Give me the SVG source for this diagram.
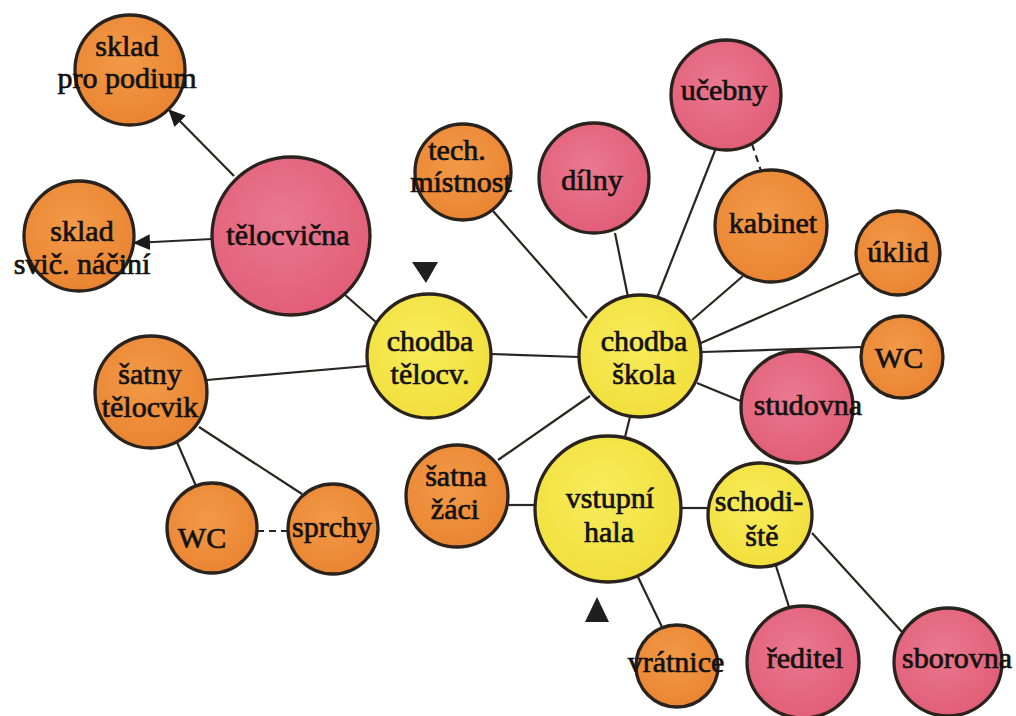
<svg xmlns="http://www.w3.org/2000/svg" width="1016" height="716" viewBox="0 0 1016 716">
<defs>
<radialGradient id="gO" cx="0.45" cy="0.4" r="0.6"><stop offset="0" stop-color="#F29A48"/><stop offset="1" stop-color="#EA8532"/></radialGradient>
<radialGradient id="gP" cx="0.45" cy="0.4" r="0.6"><stop offset="0" stop-color="#E9798F"/><stop offset="1" stop-color="#E25E78"/></radialGradient>
<radialGradient id="gY" cx="0.45" cy="0.4" r="0.6"><stop offset="0" stop-color="#F7EC5C"/><stop offset="1" stop-color="#F1DF3C"/></radialGradient>
<marker id="arr" markerUnits="userSpaceOnUse" markerWidth="20" markerHeight="18" refX="16" refY="8" orient="auto">
<path d="M0,0 L17,8 L0,16 Z" fill="#1a1a1a"/>
</marker>
<style>
.n circle{stroke:#2a221c;stroke-width:3.3}
.o circle{fill:url(#gO)}
.p circle{fill:url(#gP)}
.y circle{fill:url(#gY)}
text{font-family:"Liberation Serif","Times New Roman",serif;font-size:30px;fill:#141210;stroke:#141210;stroke-width:0.7;text-anchor:middle}
#edges line{stroke:#2a2522;stroke-width:2.2;fill:none}
#edges .d{stroke-dasharray:7 5}
.tri{fill:#1f1f1f}
</style>
</defs>
<rect width="1016" height="716" fill="#ffffff"/>
<g id="edges">
<line x1="234" y1="176" x2="169" y2="110" marker-end="url(#arr)"/>
<line x1="212" y1="239" x2="134" y2="243" marker-end="url(#arr)"/>
<line x1="344" y1="294" x2="377" y2="323"/>
<line x1="207" y1="380" x2="367" y2="366"/>
<line x1="177" y1="442" x2="196" y2="486"/>
<line x1="199" y1="427" x2="302" y2="494"/>
<line class="d" x1="257" y1="531" x2="288" y2="531"/>
<line x1="491" y1="354" x2="579" y2="357"/>
<line x1="493" y1="211" x2="587" y2="318"/>
<line x1="615" y1="233" x2="628" y2="297"/>
<line x1="716" y1="148" x2="657" y2="298"/>
<line x1="743" y1="276" x2="692" y2="320"/>
<line x1="860" y1="273" x2="701" y2="343"/>
<line x1="862" y1="347" x2="702" y2="352"/>
<line x1="743" y1="402" x2="697" y2="383"/>
<line x1="498" y1="460" x2="590" y2="396"/>
<line x1="508" y1="505" x2="535" y2="505"/>
<line x1="630" y1="417" x2="625" y2="437"/>
<line x1="681" y1="508" x2="708" y2="508"/>
<line x1="638" y1="577" x2="662" y2="627"/>
<line x1="776" y1="566" x2="789" y2="607"/>
<line x1="812" y1="533" x2="902" y2="632"/>
<line class="d" x1="752" y1="144" x2="761" y2="171"/>
</g>
<g id="markers">
<polygon class="tri" points="412,262 438,262 426,283"/>
<polygon class="tri" points="585,622 609,622 597,597"/>
</g>
<g id="sklad-podium" class="n o"><circle cx="130" cy="70" r="55"/><text x="127" y="56">sklad</text><text x="127" y="88">pro podium</text></g>
<g id="sklad-svic" class="n o"><circle cx="79" cy="236" r="55"/><text x="82" y="241">sklad</text><text x="82" y="274">svič. náčiní</text></g>
<g id="telocvicna" class="n p"><circle cx="291" cy="236" r="79"/><text x="288" y="245">tělocvična</text></g>
<g id="chodba-telocv" class="n y"><circle cx="429" cy="356" r="62"/><text x="430" y="351">chodba</text><text x="430" y="384">tělocv.</text></g>
<g id="satny-telocvik" class="n o"><circle cx="151" cy="392" r="56"/><text x="150" y="384">šatny</text><text x="150" y="417">tělocvik</text></g>
<g id="wc-left" class="n o"><circle cx="212" cy="528" r="45"/><text x="202" y="548">WC</text></g>
<g id="sprchy" class="n o"><circle cx="333" cy="529" r="45"/><text x="332" y="537">sprchy</text></g>
<g id="tech-mistnost" class="n o"><circle cx="463" cy="172" r="48"/><text x="457" y="160">tech.</text><text x="461" y="192">místnost</text></g>
<g id="dilny" class="n p"><circle cx="594" cy="178" r="55"/><text x="592" y="190">dílny</text></g>
<g id="ucebny" class="n p"><circle cx="726" cy="95" r="55"/><text x="724" y="100">učebny</text></g>
<g id="kabinet" class="n o"><circle cx="771" cy="226" r="56"/><text x="773" y="233">kabinet</text></g>
<g id="uklid" class="n o"><circle cx="898" cy="253" r="42"/><text x="898" y="262">úklid</text></g>
<g id="wc-right" class="n o"><circle cx="902" cy="357" r="41"/><text x="899" y="368">WC</text></g>
<g id="studovna" class="n p"><circle cx="797" cy="407" r="56"/><text x="808" y="415">studovna</text></g>
<g id="chodba-skola" class="n y"><circle cx="640" cy="356" r="61"/><text x="644" y="351">chodba</text><text x="644" y="384">škola</text></g>
<g id="satna-zaci" class="n o"><circle cx="457" cy="496" r="51"/><text x="456" y="486">šatna</text><text x="455" y="519">žáci</text></g>
<g id="vstupni-hala" class="n y"><circle cx="608" cy="509" r="73"/><text x="610" y="508">vstupní</text><text x="609" y="542">hala</text></g>
<g id="schodiste" class="n y"><circle cx="760" cy="515" r="52"/><text x="759" y="511">schodi-</text><text x="762" y="546">ště</text></g>
<g id="vratnice" class="n o"><circle cx="677" cy="666" r="41"/><text x="676" y="672">vrátnice</text></g>
<g id="reditel" class="n p"><circle cx="803" cy="662" r="56"/><text x="805" y="668">ředitel</text></g>
<g id="sborovna" class="n p"><circle cx="948" cy="662" r="54"/><text x="957" y="668">sborovna</text></g>
</svg>
